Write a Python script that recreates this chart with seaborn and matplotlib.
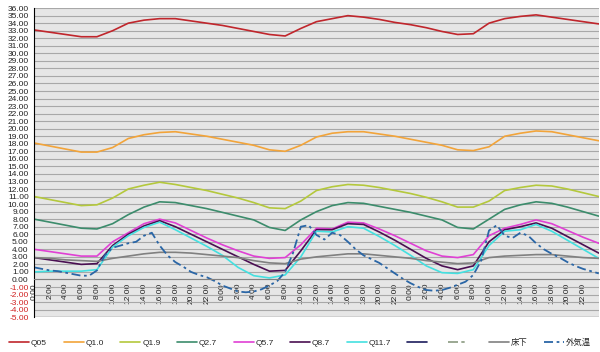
import numpy as np
import pandas as pd
import matplotlib
matplotlib.use('Agg')
import matplotlib.pyplot as plt
import seaborn as sns

# ---------------------------------------------------------------
# datos (lectura a ojo del grafico original, cada 2 h / cada 1 h)
# ---------------------------------------------------------------
horas = list(range(0, 73, 2))
horas_ext = list(range(0, 73))

q05 = [33.1, 32.8, 32.5, 32.2, 32.2, 33.0, 34.0, 34.4, 34.6, 34.6, 34.3, 34.0, 33.7,
       33.3, 32.9, 32.5, 32.3, 33.3, 34.2, 34.6, 35.0, 34.8, 34.5, 34.1, 33.8,
       33.4, 32.9, 32.5, 32.6, 34.0, 34.6, 34.9, 35.1, 34.8, 34.5, 34.2, 33.9]
q10 = [18.1, 17.7, 17.3, 16.9, 16.9, 17.5, 18.7, 19.2, 19.5, 19.6, 19.3, 19.0, 18.6,
       18.2, 17.8, 17.2, 17.0, 17.8, 18.9, 19.4, 19.6, 19.6, 19.3, 19.0, 18.6,
       18.2, 17.8, 17.2, 17.1, 17.6, 19.0, 19.4, 19.7, 19.6, 19.2, 18.8, 18.4]
q19 = [11.0, 10.6, 10.2, 9.8, 9.9, 10.8, 12.0, 12.5, 12.9, 12.6, 12.2, 11.8, 11.3,
       10.8, 10.2, 9.5, 9.4, 10.4, 11.8, 12.3, 12.6, 12.5, 12.2, 11.8, 11.4,
       10.9, 10.3, 9.6, 9.6, 10.4, 11.8, 12.2, 12.5, 12.4, 12.0, 11.5, 11.0]
q27 = [8.0, 7.6, 7.2, 6.8, 6.7, 7.4, 8.6, 9.6, 10.3, 10.2, 9.8, 9.4, 8.9,
       8.4, 7.9, 6.9, 6.5, 7.9, 9.0, 9.8, 10.2, 10.1, 9.7, 9.3, 8.9,
       8.4, 7.9, 6.9, 6.7, 8.0, 9.3, 9.9, 10.3, 10.1, 9.6, 9.0, 8.4]
q57 = [4.0, 3.7, 3.4, 3.1, 3.1, 5.0, 6.2, 7.4, 8.0, 7.5, 6.5, 5.5, 4.6,
       3.8, 3.1, 2.8, 2.9, 4.6, 6.8, 6.7, 7.6, 7.5, 6.7, 5.8, 4.8,
       3.8, 3.1, 2.9, 3.3, 5.8, 6.8, 7.3, 7.9, 7.4, 6.5, 5.6, 4.8]
q87 = [2.9, 2.6, 2.3, 2.0, 2.1, 4.5, 6.0, 7.1, 7.8, 7.0, 6.0, 5.0, 4.0,
       3.0, 2.0, 1.1, 1.2, 3.8, 6.6, 6.6, 7.4, 7.3, 6.3, 5.2, 4.0,
       2.8, 1.8, 1.3, 1.8, 5.0, 6.6, 7.0, 7.5, 6.8, 5.7, 4.6, 3.5]
q117 = [1.0, 1.1, 1.1, 1.1, 1.3, 4.3, 5.8, 6.9, 7.6, 6.6, 5.5, 4.4, 3.2,
        1.6, 0.5, 0.2, 0.6, 3.0, 6.4, 6.3, 7.0, 6.8, 5.7, 4.5, 3.2,
        1.8, 0.9, 0.8, 1.3, 4.5, 6.4, 6.6, 7.3, 6.4, 5.2, 4.0, 2.8]
yukashita = [2.9, 2.8, 2.6, 2.5, 2.4, 2.8, 3.1, 3.4, 3.6, 3.6, 3.5, 3.3, 3.1,
             2.9, 2.5, 2.2, 2.1, 2.7, 3.0, 3.2, 3.4, 3.4, 3.2, 3.0, 2.8,
             2.5, 2.3, 2.1, 2.2, 2.9, 3.1, 3.2, 3.3, 3.3, 3.1, 2.9, 2.8]
gaikion = [1.6, 1.4, 1.2, 1.1, 0.9, 0.7, 0.5, 0.5, 1.2, 3.2, 4.2, 4.5, 4.8, 5.0, 5.8, 6.2,
           4.5, 3.2, 2.3, 1.7, 1.0, 0.6, 0.3, -0.2, -0.8, -1.2, -1.6, -1.7, -1.6, -1.3,
           -0.8, -0.2, 1.0, 3.5, 7.0, 7.2, 5.9, 5.3, 6.2, 5.9, 5.0, 4.0, 3.2, 2.7, 2.2,
           1.5, 0.8, 0.1, -0.5, -1.0, -1.4, -1.5, -1.4, -1.1, -0.7, -0.3, 0.6, 2.5, 6.5,
           7.2, 5.8, 5.5, 6.2, 5.8, 4.8, 4.0, 3.4, 2.9, 2.3, 1.8, 1.4, 1.1, 0.8]

etiquetas_x = [f'{h}:00' for h in range(0, 24, 2)] * 3
ticks_x = list(range(0, 72, 2))
ticks_y = list(range(-5, 37))

series = [
    ('Q05', q05, '#c0262c'),
    ('Q1.0', q10, '#f2a43a'),
    ('Q1.9', q19, '#b4c83c'),
    ('Q2.7', q27, '#3c8c6c'),
    ('Q5.7', q57, '#e040d4'),
    ('Q8.7', q87, '#4a0f52'),
    ('Q11.7', q117, '#44e0e0'),
]

# ---------------------------------------------------------------
# grafico
# ---------------------------------------------------------------
sns.set_style('white')
plt.rcParams['font.family'] = ['Liberation Sans', 'Noto Sans CJK JP', 'DejaVu Sans']

fig = plt.figure(figsize=(6.0, 3.52), dpi=100)
ax = fig.add_axes([0.057, 0.099, 0.941, 0.878])
ax.set_facecolor('#e6e6e6')

for nombre, valores, color in series:
    sns.lineplot(x=horas, y=valores, ax=ax, color=color, linewidth=1.2, label=nombre)

# dos series sin nombre (vacias en el original, solo aparecen en la leyenda)
ax.plot([], [], color='#1c1c5c', linewidth=1.2, label=' ')
ax.plot([], [], color='#8a9a80', linewidth=1.2, linestyle=(0, (6, 2, 2, 2)), label=' ')

sns.lineplot(x=horas, y=yukashita, ax=ax, color='#808080', linewidth=1.2, label='床下')
sns.lineplot(x=horas_ext, y=gaikion, ax=ax, color='#2a66a6', linewidth=1.3,
             linestyle=(0, (5, 2, 1.5, 2)), label='外気温')

ax.set_xlim(0, 72)
ax.set_ylim(-5, 36)
ax.set_yticks(ticks_y)
ax.set_yticklabels([f'{v:.2f}' for v in ticks_y])
for lbl, v in zip(ax.get_yticklabels(), ticks_y):
    lbl.set_color('#d02020' if v < 0 else '#222222')
ax.set_xticks(ticks_x)
ax.set_xticklabels(etiquetas_x)

ax.grid(True, axis='y', color='#a8a8a8', linewidth=0.8)
ax.set_axisbelow(True)
ax.spines['top'].set_visible(False)
ax.spines['right'].set_visible(False)
ax.spines['left'].set_color('#000000')
ax.spines['bottom'].set_position(('data', 0))
ax.spines['bottom'].set_color('#808080')
ax.tick_params(axis='y', labelsize=6, length=3, width=0.6, direction='out', pad=1)
ax.tick_params(axis='x', labelsize=6, length=3, width=0.6, direction='inout',
               colors='#222222', pad=1, labelrotation=90)
ax.set_xlabel('')
ax.set_ylabel('')

# borde inferior del area de grafico
ax.axhline(-5, color='#909090', linewidth=1.0)

ax.get_legend().remove()
handles, labels = ax.get_legend_handles_labels()
fig.legend(handles, labels, loc='center', bbox_to_anchor=(0.5, 0.026), ncol=11,
           frameon=False, fontsize=6, handlelength=2.4, handletextpad=0.2,
           columnspacing=2.0)

plt.savefig('out.png', dpi=100)
plt.close()
